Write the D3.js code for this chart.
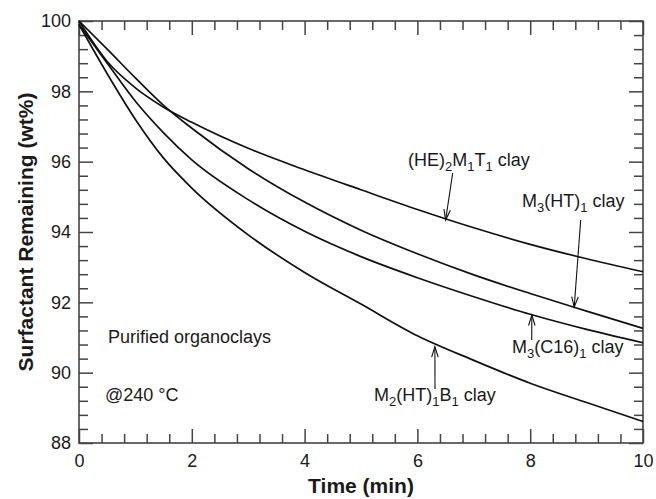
<!DOCTYPE html>
<html>
<head>
<meta charset="utf-8">
<script src="https://cdn.jsdelivr.net/npm/d3@7"></script>
<style>
  html, body { margin: 0; padding: 0; background: #fff; }
  svg { display: block; font-family: "Liberation Sans", Arial, Helvetica, sans-serif; }
</style>
</head>
<body>
<svg id="chart" width="656" height="499"></svg>
<script>
// ---- data ----
const times   = [0, 0.5, 1, 1.5, 2, 3, 4, 5, 6, 7, 8, 9, 10];
const heClay  = [100, 98.85, 98.1, 97.55, 97.12, 96.38, 95.77, 95.2, 94.64, 94.12, 93.65, 93.24, 92.87];
const htClay  = [100, 99.2, 98.38, 97.6, 96.95, 95.8, 94.85, 94.05, 93.38, 92.78, 92.25, 91.75, 91.26];
const c16Clay = [99.9, 98.8, 97.72, 96.82, 96.05, 94.92, 94.02, 93.3, 92.7, 92.16, 91.66, 91.23, 90.85];
const m2Clay  = [99.9, 98.5, 97.2, 96.1, 95.25, 93.92, 92.85, 91.95, 91.05, 90.35, 89.7, 89.15, 88.61];
const xTickValues = [0, 2, 4, 6, 8, 10];
const yTickValues = [88, 90, 92, 94, 96, 98, 100];
const seriesList = [heClay, htClay, c16Clay, m2Clay];

// ---- layout ----
const svg = d3.select("#chart");
const L = 79, R = 643, T = 21, B = 443;
const x = d3.scaleLinear().domain([0, 10]).range([L, R]);
const y = d3.scaleLinear().domain([88, 100]).range([B, T]);
const axisColor = "#444";
const textColor = "#1a1a1a";

const xMinor = d3.range(0, 10.001, 0.4).filter(v => Math.abs(v/2 - Math.round(v/2)) > 1e-6);
const yMinor = d3.range(88, 100.001, 0.4).filter(v => Math.abs(v/2 - Math.round(v/2)) > 1e-6);

function styleAxis(g) {
  g.select(".domain").remove();
  g.selectAll(".tick line").attr("stroke", axisColor).attr("stroke-width", 1.5);
  g.selectAll(".tick text").attr("fill", textColor).attr("font-size", 18)
    .attr("font-family", "Liberation Sans, Arial, sans-serif");
}

// bottom
svg.append("g").attr("transform", `translate(0,${B})`)
  .call(d3.axisBottom(x).tickValues(xTickValues).tickSize(-14).tickPadding(11).tickFormat(d3.format("d")))
  .call(styleAxis);
svg.append("g").attr("transform", `translate(0,${B})`)
  .call(d3.axisBottom(x).tickValues(xMinor).tickSize(-9).tickFormat(""))
  .call(styleAxis);
// top
svg.append("g").attr("transform", `translate(0,${T})`)
  .call(d3.axisTop(x).tickValues(xTickValues).tickSize(-14).tickFormat(""))
  .call(styleAxis);
svg.append("g").attr("transform", `translate(0,${T})`)
  .call(d3.axisTop(x).tickValues(xMinor).tickSize(-9).tickFormat(""))
  .call(styleAxis);
// left
svg.append("g").attr("transform", `translate(${L},0)`)
  .call(d3.axisLeft(y).tickValues(yTickValues).tickSize(-14).tickPadding(8).tickFormat(d3.format("d")))
  .call(styleAxis);
svg.append("g").attr("transform", `translate(${L},0)`)
  .call(d3.axisLeft(y).tickValues(yMinor).tickSize(-9).tickFormat(""))
  .call(styleAxis);
// right
svg.append("g").attr("transform", `translate(${R},0)`)
  .call(d3.axisRight(y).tickValues(yTickValues).tickSize(-14).tickFormat(""))
  .call(styleAxis);
svg.append("g").attr("transform", `translate(${R},0)`)
  .call(d3.axisRight(y).tickValues(yMinor).tickSize(-9).tickFormat(""))
  .call(styleAxis);

// frame
svg.append("rect").attr("x", L).attr("y", T).attr("width", R - L).attr("height", B - T)
  .attr("fill", "none").attr("stroke", axisColor).attr("stroke-width", 1.6);

// curves
const line = d3.line().x((d, i) => x(times[i])).y(d => y(d)).curve(d3.curveMonotoneX);
svg.append("g").selectAll("path").data(seriesList).join("path")
  .attr("d", line).attr("fill", "none").attr("stroke", "#111").attr("stroke-width", 1.7);

// axis titles
svg.append("text").attr("x", (L + R) / 2).attr("y", 493).attr("text-anchor", "middle")
  .attr("font-size", 21).attr("font-weight", "bold").attr("fill", textColor).text("Time (min)");
svg.append("text").attr("transform", `translate(33,${(T + B) / 2}) rotate(-90)`).attr("text-anchor", "middle")
  .attr("font-size", 21).attr("font-weight", "bold").attr("fill", textColor).text("Surfactant Remaining (wt%)");

// annotation helper: parts = [[text, isSub], ...]
function label(px, py, parts) {
  const t = svg.append("text").attr("x", px).attr("y", py).attr("font-size", 18).attr("fill", textColor);
  parts.forEach(([s, sub], i) => {
    const prevSub = i > 0 && parts[i - 1][1];
    const ts = t.append("tspan").text(s);
    if (sub) {
      ts.attr("font-size", 13).attr("dy", prevSub ? 0 : 5);
    } else {
      ts.attr("dy", prevSub ? -5 : 0);
    }
  });
  return t;
}

function arrow(x1, y1, x2, y2) {
  const g = svg.append("g").attr("stroke", "#111").attr("stroke-width", 1.1).attr("fill", "none");
  g.append("line").attr("x1", x1).attr("y1", y1).attr("x2", x2).attr("y2", y2);
  const ang = Math.atan2(y2 - y1, x2 - x1);
  const len = 11, spread = 0.3;
  const a1 = ang + Math.PI - spread, a2 = ang + Math.PI + spread;
  g.append("path").attr("d",
    `M${x2 + len * Math.cos(a1)},${y2 + len * Math.sin(a1)} L${x2},${y2} L${x2 + len * Math.cos(a2)},${y2 + len * Math.sin(a2)}`);
}

label(408, 166, [["(HE)", false], ["2", true], ["M", false], ["1", true], ["T", false], ["1", true], [" clay", false]]);
arrow(452.7, 173, x(6.5), y(94.34));

label(522, 207, [["M", false], ["3", true], ["(HT)", false], ["1", true], [" clay", false]]);
arrow(580.7, 220, x(8.78), y(91.86));

label(512, 353, [["M", false], ["3", true], ["(C16)", false], ["1", true], [" clay", false]]);
arrow(531.7, 340, x(8.03), y(91.64));

label(374, 401, [["M", false], ["2", true], ["(HT)", false], ["1", true], ["B", false], ["1", true], [" clay", false]]);
arrow(435, 389, x(6.31), y(90.74));

svg.append("text").attr("x", 108).attr("y", 343).attr("font-size", 18).attr("fill", textColor).text("Purified organoclays");
svg.append("text").attr("x", 105).attr("y", 401).attr("font-size", 18).attr("fill", textColor).text("@240 °C");
</script>
</body>
</html>
